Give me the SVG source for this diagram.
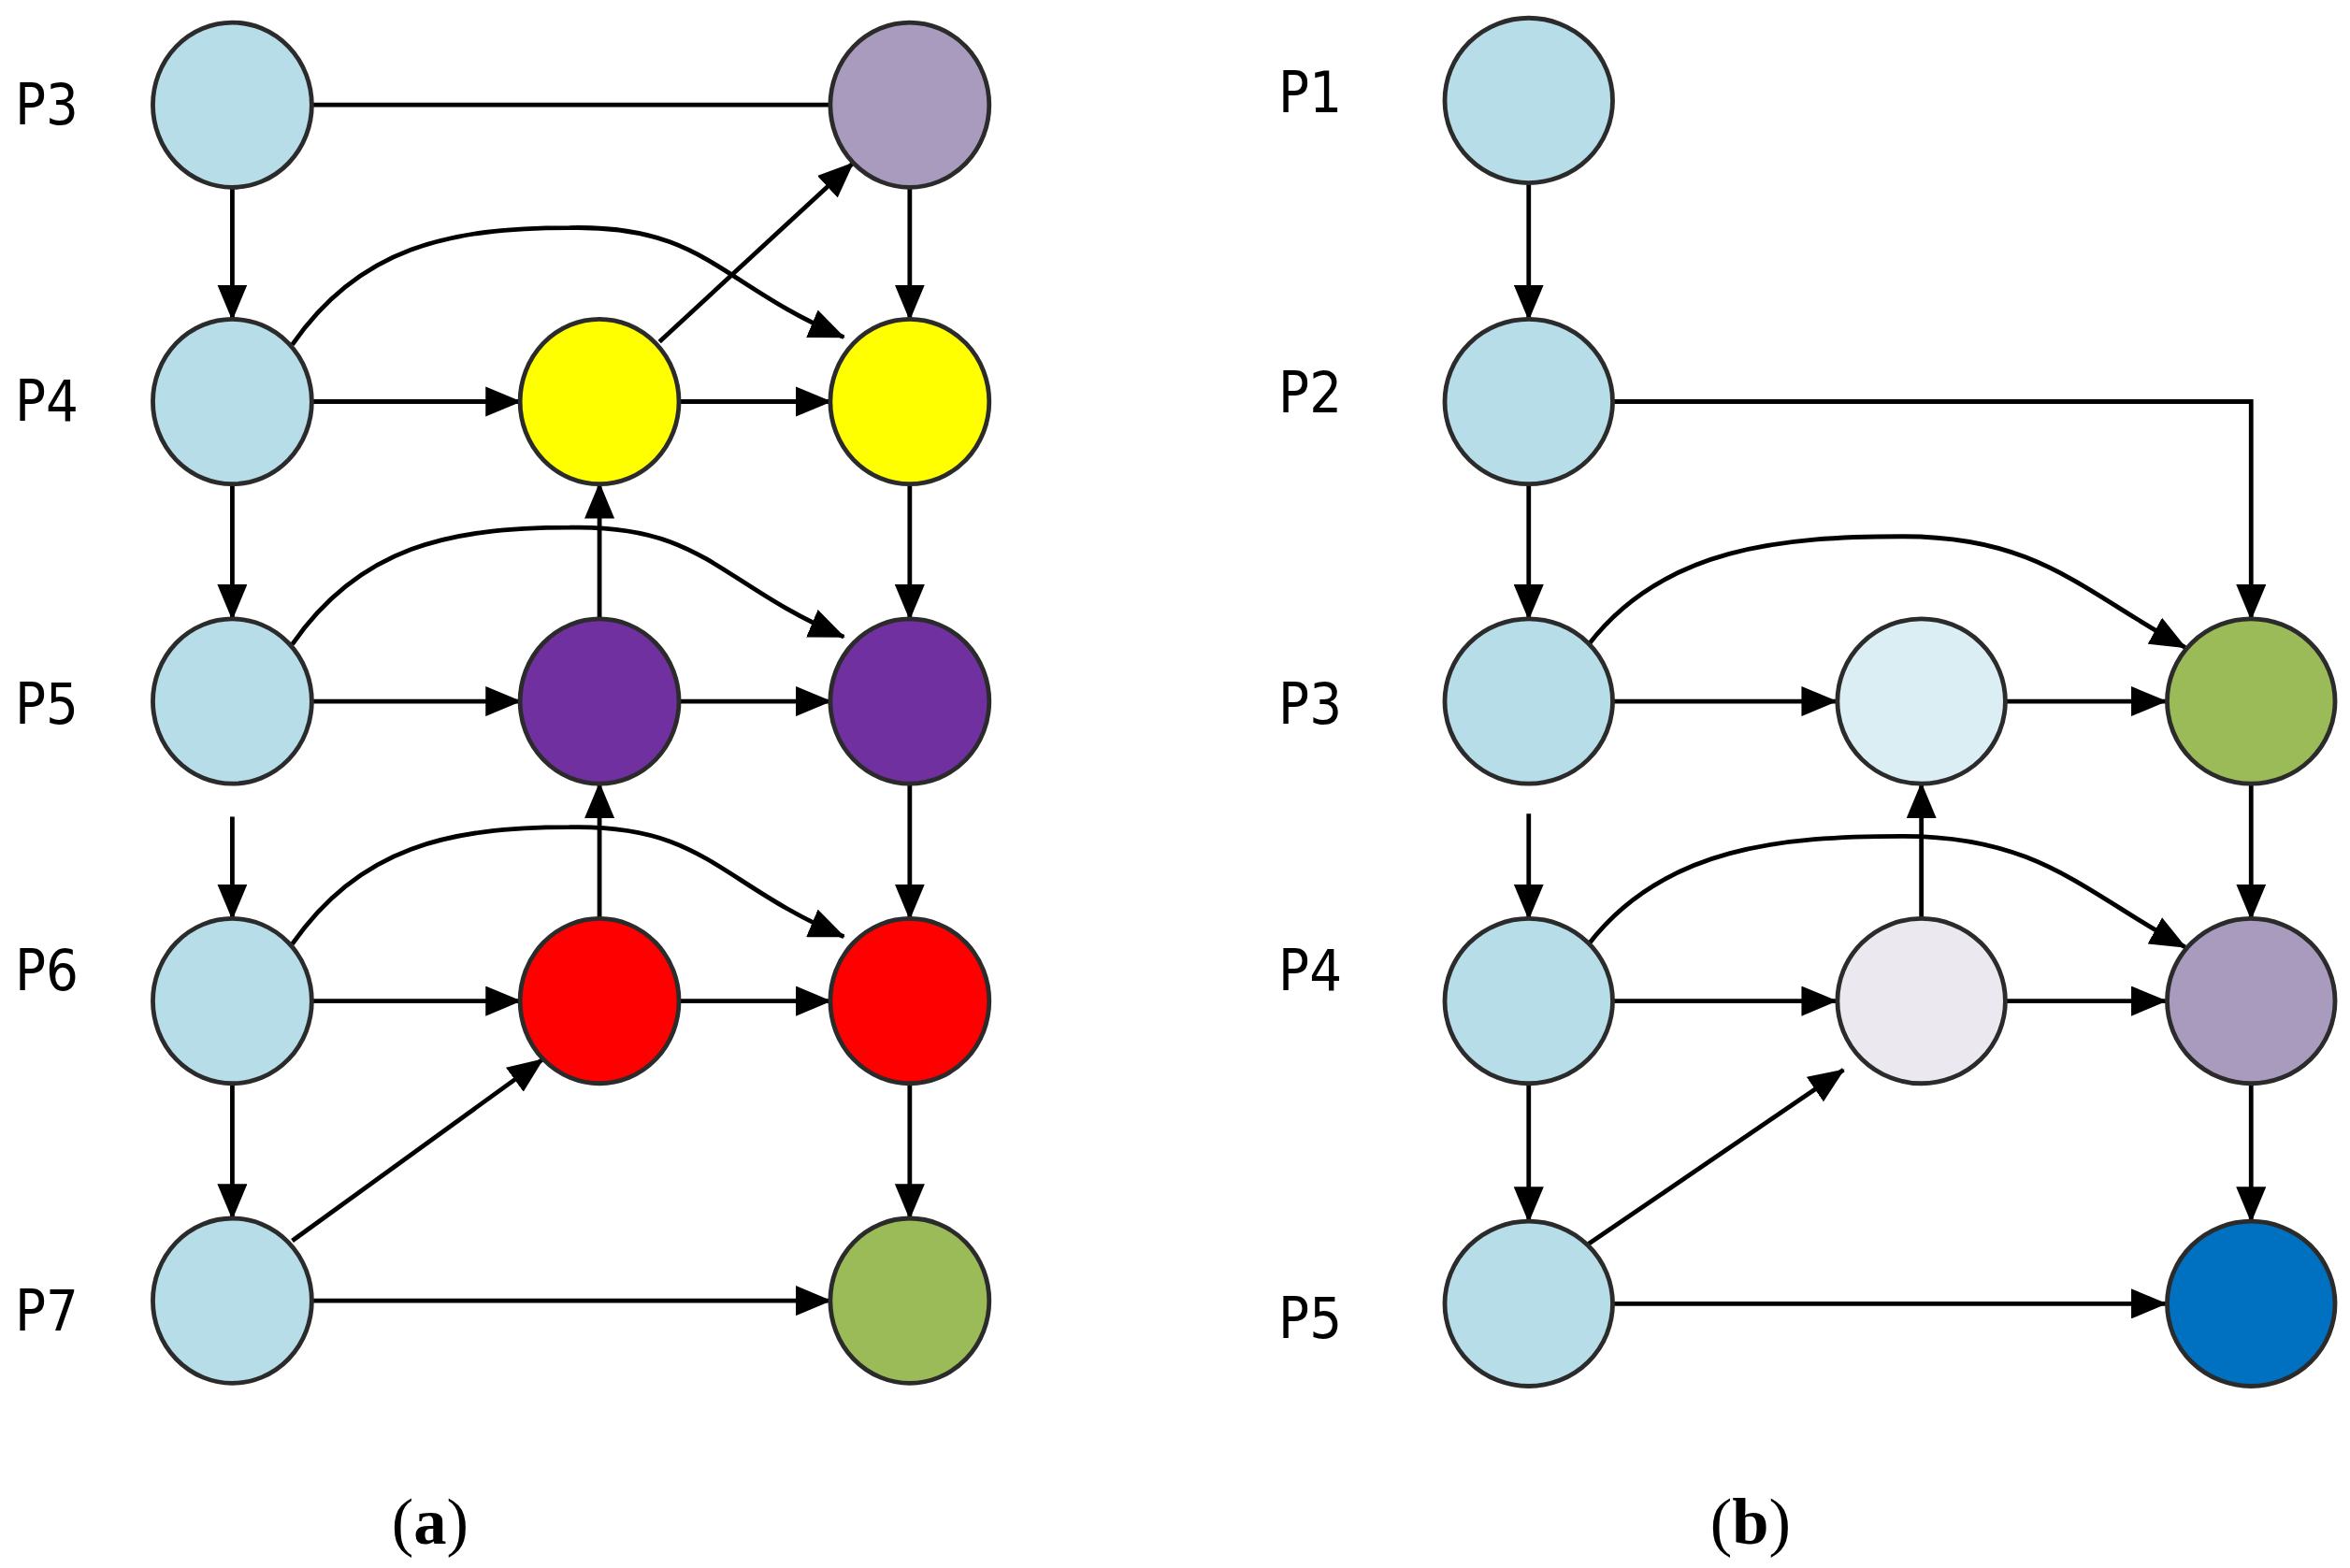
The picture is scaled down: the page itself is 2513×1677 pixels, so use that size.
<svg xmlns="http://www.w3.org/2000/svg" width="2513" height="1677" viewBox="0 0 2513 1677">
<style>
.n{stroke:#2b2b2b;stroke-width:3}
.e{fill:none;stroke:#000;stroke-width:3;marker-end:url(#ah)}
.p{fill:none;stroke:#000;stroke-width:3}
.l{font-family:"DejaVu Sans Condensed","Liberation Sans",sans-serif;font-size:38px}
.c{font-family:"Liberation Serif",serif;font-size:44px}
</style>
<defs>
<marker id="ah" markerUnits="userSpaceOnUse" markerWidth="24" markerHeight="20" refX="23" refY="10" orient="auto"><path d="M0,0 L24,10 L0,20 z" fill="#000"/></marker>
</defs>
<rect width="2513" height="1677" fill="#fff"/>
<g transform="scale(1.6027)">
<g id="edges">
<line class="p" x1="208" y1="70" x2="554" y2="70"/>
<line class="e" x1="155" y1="125" x2="155" y2="213"/>
<line class="e" x1="155" y1="323" x2="155" y2="413"/>
<line class="e" x1="155" y1="545" x2="155" y2="613"/>
<line class="e" x1="155" y1="723" x2="155" y2="813"/>
<line class="e" x1="607" y1="125" x2="607" y2="213"/>
<line class="e" x1="607" y1="323" x2="607" y2="413"/>
<line class="e" x1="607" y1="523" x2="607" y2="613"/>
<line class="e" x1="607" y1="723" x2="607" y2="813"/>
<line class="e" x1="208" y1="268" x2="347" y2="268"/>
<line class="e" x1="453" y1="268" x2="554" y2="268"/>
<line class="e" x1="208" y1="468" x2="347" y2="468"/>
<line class="e" x1="453" y1="468" x2="554" y2="468"/>
<line class="e" x1="208" y1="668" x2="347" y2="668"/>
<line class="e" x1="453" y1="668" x2="554" y2="668"/>
<line class="e" x1="208" y1="868" x2="554" y2="868"/>
<line class="e" x1="400" y1="413" x2="400" y2="323"/>
<line class="e" x1="400" y1="613" x2="400" y2="523"/>
<line class="e" x1="440" y1="228" x2="569" y2="109"/>
<line class="e" x1="195" y1="828" x2="362" y2="707"/>
<path class="e" d="M195,230 C240,165 300,152 380,152 C470,150 480,190 563,225"/>
<path class="e" d="M195,430 C240,365 300,352 380,352 C470,350 480,390 563,425"/>
<path class="e" d="M195,630 C240,565 300,552 380,552 C470,550 480,590 563,625"/>
<line class="e" x1="1020" y1="122" x2="1020" y2="213"/>
<line class="e" x1="1020" y1="323" x2="1020" y2="413"/>
<line class="e" x1="1020" y1="543" x2="1020" y2="613"/>
<line class="e" x1="1020" y1="723" x2="1020" y2="815"/>
<path class="e" d="M1077,268 L1502,268 L1502,413"/>
<line class="e" x1="1502" y1="523" x2="1502" y2="613"/>
<line class="e" x1="1502" y1="723" x2="1502" y2="815"/>
<line class="e" x1="1077" y1="468" x2="1225" y2="468"/>
<line class="e" x1="1339" y1="468" x2="1445" y2="468"/>
<line class="e" x1="1077" y1="668" x2="1225" y2="668"/>
<line class="e" x1="1339" y1="668" x2="1445" y2="668"/>
<line class="e" x1="1077" y1="870" x2="1445" y2="870"/>
<line class="e" x1="1282" y1="613" x2="1282" y2="523"/>
<line class="e" x1="1060" y1="830" x2="1230" y2="714"/>
<path class="e" d="M1060,430 C1110,365 1190,358 1270,358 C1360,358 1390,395 1458,432"/>
<path class="e" d="M1060,630 C1110,565 1190,558 1270,558 C1360,558 1390,595 1458,632"/>
</g>
<g id="a-p3"><text class="l" x="10" y="83">P3</text><ellipse class="n" cx="155" cy="70" rx="53" ry="55" fill="#B7DDE8"/><ellipse class="n" cx="607" cy="70" rx="53" ry="55" fill="#A99BBD"/></g>
<g id="a-p4"><text class="l" x="10" y="281">P4</text><ellipse class="n" cx="155" cy="268" rx="53" ry="55" fill="#B7DDE8"/><ellipse class="n" cx="400" cy="268" rx="53" ry="55" fill="#FFFF00"/><ellipse class="n" cx="607" cy="268" rx="53" ry="55" fill="#FFFF00"/></g>
<g id="a-p5"><text class="l" x="10" y="483">P5</text><ellipse class="n" cx="155" cy="468" rx="53" ry="55" fill="#B7DDE8"/><ellipse class="n" cx="400" cy="468" rx="53" ry="55" fill="#7030A0"/><ellipse class="n" cx="607" cy="468" rx="53" ry="55" fill="#7030A0"/></g>
<g id="a-p6"><text class="l" x="10" y="661">P6</text><ellipse class="n" cx="155" cy="668" rx="53" ry="55" fill="#B7DDE8"/><ellipse class="n" cx="400" cy="668" rx="53" ry="55" fill="#FF0000"/><ellipse class="n" cx="607" cy="668" rx="53" ry="55" fill="#FF0000"/></g>
<g id="a-p7"><text class="l" x="10" y="888">P7</text><ellipse class="n" cx="155" cy="868" rx="53" ry="55" fill="#B7DDE8"/><ellipse class="n" cx="607" cy="868" rx="53" ry="55" fill="#9BBB59"/></g>
<g id="b-p1"><text class="l" x="853" y="75">P1</text><ellipse class="n" cx="1020" cy="67" rx="56" ry="55" fill="#B7DDE8"/></g>
<g id="b-p2"><text class="l" x="853" y="275">P2</text><ellipse class="n" cx="1020" cy="268" rx="56" ry="55" fill="#B7DDE8"/></g>
<g id="b-p3"><text class="l" x="853" y="483">P3</text><ellipse class="n" cx="1020" cy="468" rx="56" ry="55" fill="#B7DDE8"/><ellipse class="n" cx="1282" cy="468" rx="56" ry="55" fill="#DAEEF3"/><ellipse class="n" cx="1502" cy="468" rx="56" ry="55" fill="#9BBB59"/></g>
<g id="b-p4"><text class="l" x="853" y="661">P4</text><ellipse class="n" cx="1020" cy="668" rx="56" ry="55" fill="#B7DDE8"/><ellipse class="n" cx="1282" cy="668" rx="56" ry="55" fill="#EBE8F0"/><ellipse class="n" cx="1502" cy="668" rx="56" ry="55" fill="#A99BBD"/></g>
<g id="b-p5"><text class="l" x="853" y="893">P5</text><ellipse class="n" cx="1020" cy="870" rx="56" ry="55" fill="#B7DDE8"/><ellipse class="n" cx="1502" cy="870" rx="56" ry="55" fill="#0070C0"/></g>
<text class="c" x="287" y="1030" text-anchor="middle">(<tspan font-weight="bold">a</tspan>)</text>
<text class="c" x="1168" y="1030" text-anchor="middle">(<tspan font-weight="bold">b</tspan>)</text>
</g>
</svg>
